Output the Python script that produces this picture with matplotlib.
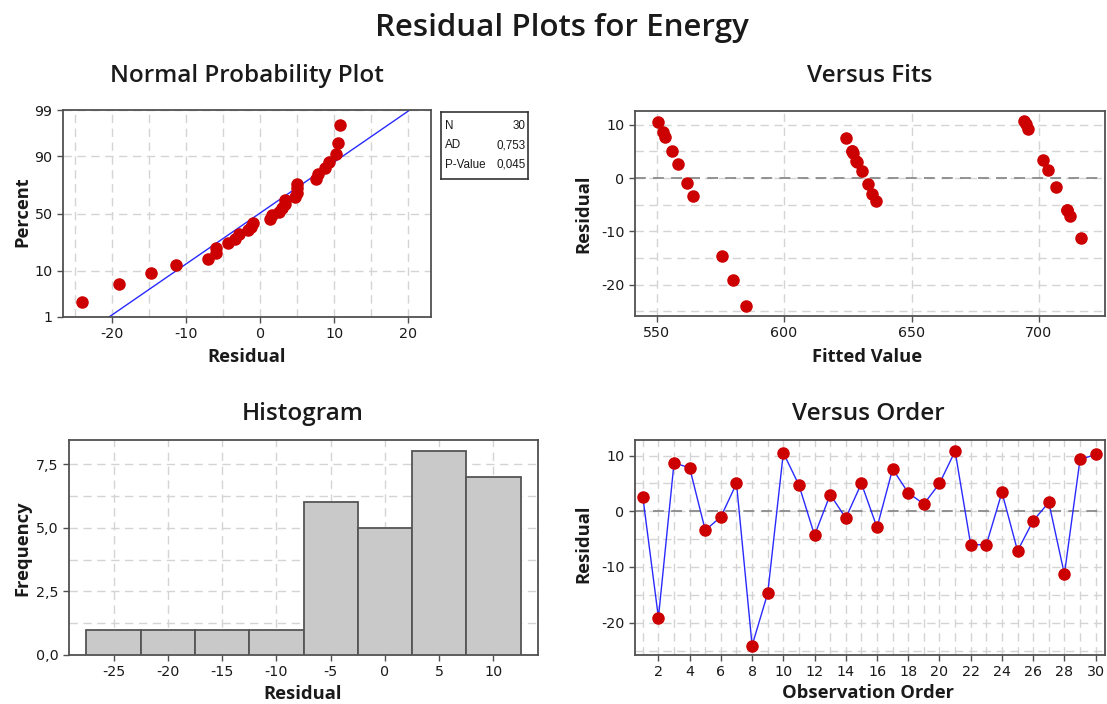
import matplotlib
matplotlib.use("Agg")
import matplotlib.pyplot as plt
from matplotlib.ticker import MultipleLocator, FixedLocator, FuncFormatter
from statistics import NormalDist
import numpy as np

# residuals in observation order and the fitted values from the model
residuals = [2.6, -19.1, 8.7, 7.8, -3.4, -1.0, 5.0, -24.1, -14.7, 10.5,
             4.7, -4.3, 3.0, -1.2, 5.0, -2.9, 7.6, 3.3, 1.3, 5.0,
             10.8, -6.0, -6.0, 3.4, -7.1, -1.7, 1.6, -11.3, 9.3, 10.2]
fitted = [558.4, 580.1, 552.3, 553.2, 564.4, 562.0, 556.0, 585.1, 575.7, 550.5,
          627.0, 636.0, 628.7, 632.9, 626.7, 634.6, 624.1, 628.4, 630.4, 626.7,
          694.2, 711.0, 711.0, 701.6, 712.1, 706.7, 703.4, 716.3, 695.7, 694.8]
order = list(range(1, 31))

# Anderson-Darling summary
stat_names = ["N", "AD", "P-Value"]
stat_values = ["30", "0,753", "0,045"]

hist_edges = [-27.5, -22.5, -17.5, -12.5, -7.5, -2.5, 2.5, 7.5, 12.5]
prob_ticks = [1, 10, 50, 90, 99]

plt.rcParams['font.family'] = ['Open Sans', 'DejaVu Sans']
plt.rcParams['axes.unicode_minus'] = False
RED = '#cc0000'
BLUE = '#2a2aff'
FRAME = '#505050'
GRID = '#d4d4d4'
TXT = '#1a1a1a'
TICKFONT = 'DejaVu Sans'

W, H = 1107, 704
fig = plt.figure(figsize=(W / 100, H / 100), dpi=100)


def box(l, t, r, b):
    return [l / W, 1 - b / H, (r - l) / W, (b - t) / H]


def px_text(x, y, s, **kw):
    fig.text(x / W, 1 - y / H, s, ha='center', va='center', color=TXT, **kw)


def style(ax):
    for sp in ax.spines.values():
        sp.set_color(FRAME)
        sp.set_linewidth(1.3)
    ax.tick_params(which='major', length=4, width=1, color=FRAME,
                   labelsize=10.3, labelcolor=TXT)
    ax.tick_params(which='minor', length=0)
    ax.grid(True, which='both', color=GRID, linestyle=(0, (6, 4)), linewidth=1)
    ax.set_axisbelow(True)


def tick_font(ax):
    for t in ax.get_xticklabels() + ax.get_yticklabels():
        t.set_fontfamily(TICKFONT)


# ---- normal probability plot
ax1 = fig.add_axes(box(63, 110, 431, 317))
style(ax1)
nd = NormalDist()
n = len(residuals)
res_sorted = np.sort(residuals)
pct = (np.arange(1, n + 1) - 0.3) / (n + 0.4)
z = [nd.inv_cdf(p) for p in pct]
ax1.plot(res_sorted, z, 'o', color=RED, ms=8, zorder=3)
mu, sd = np.mean(residuals), np.std(residuals, ddof=1)
zlo, zhi = nd.inv_cdf(0.01), nd.inv_cdf(0.99)
ax1.plot([mu + zlo * sd, mu + zhi * sd], [zlo, zhi], color=BLUE, lw=1, zorder=2)
ax1.set_xlim(-26.6, 23.05)
ax1.set_ylim(zlo, zhi)
ax1.xaxis.set_major_locator(MultipleLocator(10))
ax1.xaxis.set_minor_locator(MultipleLocator(5))
ax1.yaxis.set_major_locator(FixedLocator([nd.inv_cdf(p / 100) for p in prob_ticks]))
ax1.set_yticklabels([str(p) for p in prob_ticks])
tick_font(ax1)

# statistics box
axs = fig.add_axes(box(441, 112, 528, 179))
axs.set_xticks([])
axs.set_yticks([])
for sp in axs.spines.values():
    sp.set_color('#333333')
    sp.set_linewidth(1.2)
for i, (nm, val) in enumerate(zip(stat_names, stat_values)):
    yy = 0.79 - i * 0.29
    axs.text(0.05, yy, nm, transform=axs.transAxes, ha='left', va='center',
             fontsize=8.4, color=TXT, family='Liberation Sans')
    axs.text(0.97, yy, val, transform=axs.transAxes, ha='right', va='center',
             fontsize=8.4, color=TXT, family='Liberation Sans')

# ---- versus fits
ax2 = fig.add_axes(box(635, 111, 1105, 316))
style(ax2)
ax2.plot(fitted, residuals, 'o', color=RED, ms=8, zorder=3)
ax2.axhline(0, color='#8a8a8a', linestyle=(0, (6, 4)), lw=1.3, zorder=2)
ax2.set_xlim(541.5, 725.9)
ax2.set_ylim(-25.9, 12.6)
ax2.xaxis.set_major_locator(MultipleLocator(50))
ax2.yaxis.set_major_locator(MultipleLocator(10))
ax2.yaxis.set_minor_locator(MultipleLocator(5))
tick_font(ax2)

# ---- histogram
ax3 = fig.add_axes(box(69, 440, 538, 655))
style(ax3)
ax3.hist(residuals, bins=hist_edges, color='#c9c9c9', edgecolor='#555555',
         linewidth=1.3, zorder=3)
ax3.set_xlim(-29.1, 14.1)
ax3.set_ylim(0, 8.45)
ax3.xaxis.set_major_locator(MultipleLocator(5))
ax3.yaxis.set_major_locator(MultipleLocator(2.5))
ax3.yaxis.set_minor_locator(MultipleLocator(1.25))
ax3.yaxis.set_major_formatter(FuncFormatter(lambda v, p: ('%.1f' % v).replace('.', ',')))
ax3.xaxis.set_major_formatter(FuncFormatter(lambda v, p: '%d' % v))
tick_font(ax3)

# ---- versus order
ax4 = fig.add_axes(box(635, 440, 1105, 655))
style(ax4)
ax4.plot(order, residuals, '-', color=BLUE, lw=1, zorder=2)
ax4.plot(order, residuals, 'o', color=RED, ms=8, zorder=3)
ax4.axhline(0, color='#8a8a8a', linestyle=(0, (6, 4)), lw=1.3, zorder=1)
ax4.set_xlim(0.5, 30.6)
ax4.set_ylim(-25.8, 12.8)
ax4.xaxis.set_major_locator(MultipleLocator(2))
ax4.xaxis.set_minor_locator(MultipleLocator(1))
ax4.yaxis.set_major_locator(MultipleLocator(10))
ax4.yaxis.set_minor_locator(MultipleLocator(5))
tick_font(ax4)

# titles and axis labels
px_text(562, 28, "Residual Plots for Energy", fontsize=22.5, fontweight='semibold')
px_text(247, 76, "Normal Probability Plot", fontsize=17.5, fontweight='semibold')
px_text(870, 76, "Versus Fits", fontsize=17.5, fontweight='semibold')
px_text(303, 414, "Histogram", fontsize=17.5, fontweight='semibold')
px_text(868, 414, "Versus Order", fontsize=17.5, fontweight='semibold')

lab = dict(fontsize=13.2, fontweight='bold')
px_text(247, 357, "Residual", **lab)
px_text(22, 212, "Percent", rotation=90, **lab)
px_text(867, 357, "Fitted Value", **lab)
px_text(583, 214, "Residual", rotation=90, **lab)
px_text(303, 694, "Residual", **lab)
px_text(22, 548, "Frequency", rotation=90, **lab)
px_text(868, 693, "Observation Order", **lab)
px_text(583, 544, "Residual", rotation=90, **lab)

fig.savefig("out.png", dpi=100, facecolor='white')
